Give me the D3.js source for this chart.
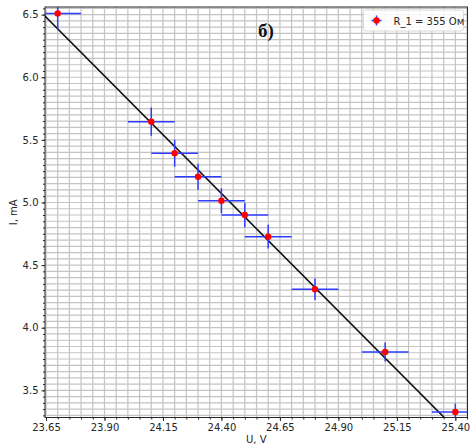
<!DOCTYPE html>
<html><head><meta charset="utf-8">
<script src="https://cdn.jsdelivr.net/npm/d3@7"></script>
<style>body{margin:0;background:#fff}svg{display:block}</style>
</head><body>
<script>
// Data
const uValues = [23.70, 24.10, 24.20, 24.30, 24.40, 24.50, 24.60, 24.80, 25.10, 25.40];
const iValues = [6.51, 5.645, 5.393, 5.206, 5.014, 4.90, 4.727, 4.307, 3.806, 3.327];
const uErr = [0.1, 0.1, 0.1, 0.1, 0.1, 0.1, 0.1, 0.1, 0.1, 0.1];
const iErr = [0.13, 0.113, 0.108, 0.104, 0.10, 0.098, 0.095, 0.086, 0.076, 0.067];
const fitU = [23.60, 25.45];
const fitI = [6.574, 3.100];
const xTicks = [23.65, 23.90, 24.15, 24.40, 24.65, 24.90, 25.15, 25.40];
const yTicks = [3.5, 4.0, 4.5, 5.0, 5.5, 6.0, 6.5];
const legendLabel = "R_1 = 355 Ом";
const panelLabel = "б)";

const W = 470, H = 448;
const m = {l: 45, t: 7, r: 2.5, b: 30.5};
const pw = W - m.l - m.r, ph = H - m.t - m.b;

const x = d3.scaleLinear().domain([23.6457, 25.452]).range([0, pw]);
const y = d3.scaleLinear().domain([3.283, 6.561]).range([ph, 0]);

const svg = d3.select("body").append("svg").attr("width", W).attr("height", H);
svg.append("defs").append("clipPath").attr("id", "clip")
  .append("rect").attr("width", pw).attr("height", ph);
const g = svg.append("g").attr("transform", `translate(${m.l},${m.t})`);

// minor tick values
const xMinor = d3.range(0, 37).map(k => +(23.65 + k * 0.05).toFixed(2)).filter(v => v <= 25.452);
const yMinor = d3.range(0, 70).map(k => +(3.30 + k * 0.05).toFixed(2)).filter(v => v <= 6.561);

// grid
const grid = g.append("g").attr("clip-path", "url(#clip)");
grid.selectAll("line.vx").data(xMinor).join("line")
  .attr("x1", d => x(d)).attr("x2", d => x(d)).attr("y1", 0).attr("y2", ph)
  .attr("stroke", "#c4c4c4").attr("stroke-width", 1.2);
grid.selectAll("line.hy").data(yMinor).join("line")
  .attr("y1", d => y(d)).attr("y2", d => y(d)).attr("x1", 0).attr("x2", pw)
  .attr("stroke", "#c4c4c4").attr("stroke-width", 1.2);

// axes
const xAxis = d3.axisBottom(x).tickValues(xTicks).tickFormat(d3.format(".2f")).tickSize(3.5).tickPadding(3);
const yAxis = d3.axisLeft(y).tickValues(yTicks).tickFormat(d3.format(".1f")).tickSize(3.5).tickPadding(3);
const xMinorAxis = d3.axisBottom(x).tickValues(xMinor).tickFormat("").tickSize(2);
const yMinorAxis = d3.axisLeft(y).tickValues(yMinor).tickFormat("").tickSize(2);

function style(sel) {
  sel.select(".domain").remove();
  sel.selectAll("text").attr("font-family", "DejaVu Sans").attr("font-size", 10).attr("fill", "#262626");
  sel.selectAll("line").attr("stroke", "#262626");
}
g.append("g").attr("transform", `translate(0,${ph})`).call(xMinorAxis).call(style);
g.append("g").call(yMinorAxis).call(style);
g.append("g").attr("transform", `translate(0,${ph})`).call(xAxis).call(style);
g.append("g").call(yAxis).call(style);

// frame
g.append("rect").attr("width", pw).attr("height", ph).attr("fill", "none")
  .attr("stroke", "#262626").attr("stroke-width", 1);

// data layer
const data = uValues.map((u, i) => ({u, i: iValues[i], eu: uErr[i], ei: iErr[i]}));
const layer = g.append("g").attr("clip-path", "url(#clip)");

// fit line
layer.append("line")
  .attr("x1", x(fitU[0])).attr("y1", y(fitI[0]))
  .attr("x2", x(fitU[1])).attr("y2", y(fitI[1]))
  .attr("stroke", "#111").attr("stroke-width", 1.6);

const eb = layer.selectAll("g.pt").data(data).join("g");
eb.append("line").attr("x1", d => x(d.u - d.eu)).attr("x2", d => x(d.u + d.eu))
  .attr("y1", d => y(d.i)).attr("y2", d => y(d.i))
  .attr("stroke", "#2f3cff").attr("stroke-width", 1.5);
eb.append("line").attr("x1", d => x(d.u)).attr("x2", d => x(d.u))
  .attr("y1", d => y(d.i - d.ei)).attr("y2", d => y(d.i + d.ei))
  .attr("stroke", "#2f3cff").attr("stroke-width", 1.5);
eb.append("circle").attr("cx", d => x(d.u)).attr("cy", d => y(d.i)).attr("r", 3.2)
  .attr("fill", "#ff0000");

// panel label
g.append("text").attr("x", 213).attr("y", 30).attr("font-family", "Liberation Serif")
  .attr("font-weight", "bold").attr("font-size", 19).attr("fill", "#111").text(panelLabel);

// legend
const lg = g.append("g").attr("transform", `translate(${pw - 104},${3})`);
lg.append("rect").attr("width", 100).attr("height", 21).attr("rx", 2.5)
  .attr("fill", "#fff").attr("fill-opacity", 0.85).attr("stroke", "#d8d8d8");
lg.append("line").attr("x1", 8).attr("x2", 18).attr("y1", 10.5).attr("y2", 10.5).attr("stroke", "#2f3cff").attr("stroke-width", 1.5);
lg.append("line").attr("x1", 13).attr("x2", 13).attr("y1", 5.5).attr("y2", 15.5).attr("stroke", "#2f3cff").attr("stroke-width", 1.5);
lg.append("circle").attr("cx", 13).attr("cy", 10.5).attr("r", 3.2).attr("fill", "#ff0000");
lg.append("text").attr("x", 30).attr("y", 14.5).attr("font-family", "DejaVu Sans").attr("font-size", 10)
  .attr("fill", "#262626").text(legendLabel);

// axis labels
svg.append("text").attr("x", m.l + pw / 2).attr("y", H - 5).attr("text-anchor", "middle")
  .attr("font-family", "DejaVu Sans").attr("font-size", 10).attr("fill", "#262626").text("U, V");
svg.append("text").attr("transform", `translate(17,${m.t + ph / 2}) rotate(-90)`).attr("text-anchor", "middle")
  .attr("font-family", "DejaVu Sans").attr("font-size", 10).attr("fill", "#262626").text("I, mA");
</script>
</body></html>
